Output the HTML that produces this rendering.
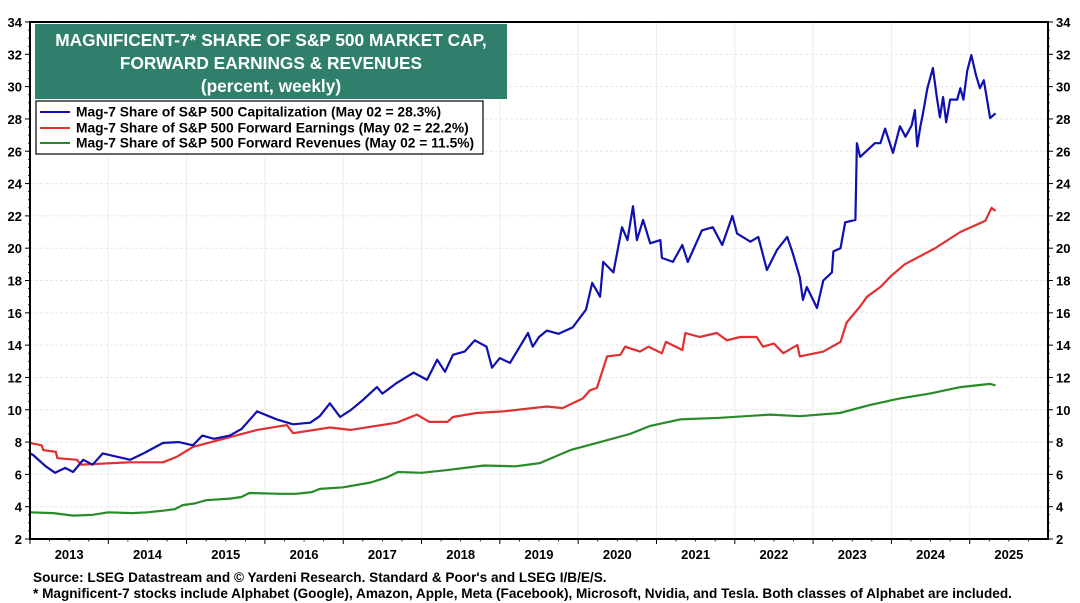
<!DOCTYPE html>
<html><head><meta charset="utf-8"><style>
body{margin:0;background:#fff;}
svg{display:block;font-family:"Liberation Sans",Arial,sans-serif;}
</style></head><body>
<svg id="chart" width="1080" height="603" viewBox="0 0 1080 603" xmlns="http://www.w3.org/2000/svg">
<rect width="1080" height="603" fill="#fff"/>
<g id="grid"></g>
<g id="axes"></g>
<g id="series"></g>
<rect x="30" y="22" width="1018" height="517" fill="none" stroke="#000" stroke-width="2"/>
<g>
<rect x="35" y="24" width="472" height="75" fill="#2f7f6c"/>
<text x="271" y="46" text-anchor="middle" fill="#fff" font-size="17.3" font-weight="bold">MAGNIFICENT-7* SHARE OF S&amp;P 500 MARKET CAP,</text>
<text x="271" y="69" text-anchor="middle" fill="#fff" font-size="17.3" font-weight="bold">FORWARD EARNINGS &amp; REVENUES</text>
<text x="271" y="92" text-anchor="middle" fill="#fff" font-size="17.3" font-weight="bold">(percent, weekly)</text>
</g>
<g>
<rect x="36" y="101" width="447" height="53" fill="#fff" stroke="#000" stroke-width="1.2"/>
<g><line x1="40" y1="112" x2="70" y2="112" stroke="#1010b0" stroke-width="2"/><text x="76" y="116.5" font-size="13.8" font-weight="bold">Mag-7 Share of S&amp;P 500 Capitalization (May 02 = 28.3%)</text></g>
<g><line x1="40" y1="128" x2="70" y2="128" stroke="#e03030" stroke-width="2"/><text x="76" y="132.5" font-size="13.8" font-weight="bold">Mag-7 Share of S&amp;P 500 Forward Earnings (May 02 = 22.2%)</text></g>
<g><line x1="40" y1="143" x2="70" y2="143" stroke="#2a8a2a" stroke-width="2"/><text x="76" y="147.5" font-size="13.8" font-weight="bold">Mag-7 Share of S&amp;P 500 Forward Revenues (May 02 = 11.5%)</text></g>
</g>
<text x="33" y="582" font-size="13.6" font-weight="bold">Source: LSEG Datastream and © Yardeni Research. Standard &amp; Poor's and LSEG I/B/E/S.</text>
<text x="33" y="598" font-size="13.6" font-weight="bold">* Magnificent-7 stocks include Alphabet (Google), Amazon, Apple, Meta (Facebook), Microsoft, Nvidia, and Tesla. Both classes of Alphabet are included.</text>
</svg>
<script>
const yTicks=[2,4,6,8,10,12,14,16,18,20,22,24,26,28,30,32,34];
const years=[2013,2014,2015,2016,2017,2018,2019,2020,2021,2022,2023,2024,2025];
const capT=[2013.0,2013.04,2013.2,2013.32,2013.45,2013.55,2013.68,2013.8,2013.93,2014.1,2014.28,2014.45,2014.7,2014.9,2015.08,2015.2,2015.35,2015.55,2015.7,2015.9,2016.05,2016.15,2016.36,2016.58,2016.7,2016.83,2016.96,2017.1,2017.25,2017.43,2017.5,2017.68,2017.9,2018.07,2018.2,2018.3,2018.4,2018.55,2018.68,2018.83,2018.9,2019.0,2019.13,2019.36,2019.42,2019.5,2019.6,2019.75,2019.93,2020.1,2020.18,2020.28,2020.32,2020.45,2020.56,2020.63,2020.7,2020.75,2020.83,2020.92,2021.05,2021.07,2021.21,2021.33,2021.4,2021.58,2021.72,2021.84,2021.97,2022.03,2022.2,2022.3,2022.41,2022.54,2022.67,2022.74,2022.83,2022.87,2022.92,2023.05,2023.13,2023.24,2023.26,2023.35,2023.41,2023.54,2023.56,2023.6,2023.79,2023.86,2023.92,2024.02,2024.11,2024.18,2024.26,2024.3,2024.33,2024.37,2024.4,2024.46,2024.53,2024.58,2024.62,2024.66,2024.7,2024.75,2024.84,2024.88,2024.92,2024.97,2025.02,2025.08,2025.13,2025.18,2025.26,2025.33];
const capV=[7.3,7.2,6.5,6.1,6.4,6.15,6.9,6.6,7.3,7.1,6.9,7.3,7.95,8.0,7.8,8.4,8.2,8.4,8.8,9.9,9.6,9.4,9.1,9.2,9.6,10.4,9.55,10.0,10.6,11.4,11.0,11.65,12.3,11.85,13.1,12.35,13.4,13.6,14.3,13.9,12.6,13.2,12.9,14.75,13.9,14.5,14.9,14.7,15.1,16.2,17.85,17.0,19.15,18.5,21.3,20.5,22.6,20.5,21.75,20.3,20.5,19.4,19.15,20.2,19.15,21.1,21.3,20.2,22.0,20.9,20.4,20.7,18.65,19.9,20.7,19.7,18.2,16.8,17.6,16.3,18.0,18.5,19.8,20.0,21.6,21.75,26.5,25.65,26.5,26.5,27.4,25.9,27.55,26.9,27.6,28.55,26.3,27.55,28.25,29.9,31.15,29.35,28.1,29.35,27.8,29.2,29.2,29.9,29.2,31.0,31.95,30.7,29.9,30.4,28.05,28.35];
const earnT=[2013.0,2013.15,2013.17,2013.33,2013.35,2013.6,2013.65,2014.28,2014.7,2014.88,2015.08,2015.55,2015.9,2016.28,2016.36,2016.83,2017.09,2017.68,2017.94,2018.1,2018.33,2018.4,2018.7,2019.04,2019.6,2019.8,2020.06,2020.15,2020.24,2020.37,2020.54,2020.6,2020.79,2020.9,2021.07,2021.12,2021.33,2021.37,2021.55,2021.77,2021.9,2022.07,2022.28,2022.36,2022.5,2022.62,2022.8,2022.83,2023.13,2023.35,2023.43,2023.6,2023.69,2023.86,2024.0,2024.17,2024.56,2024.88,2025.2,2025.28,2025.33];
const earnV=[7.95,7.8,7.5,7.4,7.0,6.9,6.6,6.75,6.75,7.1,7.7,8.3,8.75,9.05,8.55,8.9,8.75,9.2,9.7,9.25,9.25,9.55,9.8,9.9,10.2,10.1,10.7,11.2,11.35,13.3,13.4,13.9,13.6,13.9,13.5,14.2,13.7,14.75,14.5,14.75,14.3,14.5,14.5,13.9,14.1,13.5,14.0,13.3,13.6,14.2,15.4,16.4,17.0,17.6,18.3,19.0,20.0,21.0,21.7,22.5,22.3];
const revT=[2013.0,2013.3,2013.55,2013.8,2014.0,2014.3,2014.5,2014.7,2014.85,2014.95,2015.1,2015.25,2015.55,2015.7,2015.8,2016.2,2016.4,2016.6,2016.7,2017.0,2017.35,2017.55,2017.7,2018.0,2018.3,2018.8,2019.2,2019.51,2019.9,2020.28,2020.66,2020.92,2021.3,2021.81,2022.45,2022.83,2023.34,2023.73,2024.11,2024.49,2024.88,2025.26,2025.33];
const revV=[3.65,3.6,3.45,3.5,3.65,3.6,3.65,3.75,3.85,4.1,4.2,4.4,4.5,4.6,4.85,4.8,4.8,4.9,5.1,5.2,5.5,5.8,6.15,6.1,6.25,6.55,6.5,6.7,7.5,8.0,8.5,9.0,9.4,9.5,9.7,9.6,9.8,10.3,10.7,11.0,11.4,11.6,11.5];

const X0=30,X1=1048,Y0=539,Y1=22,T0=2013,T1=2026,V0=2,V1=34;
const xs=t=>X0+(t-T0)/(T1-T0)*(X1-X0);
const ys=v=>Y0-(v-V0)/(V1-V0)*(Y0-Y1);
const NS='http://www.w3.org/2000/svg';
function mk(tag,attrs,parent){const e=document.createElementNS(NS,tag);for(const k in attrs)e.setAttribute(k,attrs[k]);parent.appendChild(e);return e;}
const grid=document.getElementById('grid'),axes=document.getElementById('axes'),ser=document.getElementById('series');
yTicks.forEach(v=>{
  const y=ys(v);
  if(v>V0&&v<V1){const g=mk('line',{x1:X0,x2:X1,y1:y,y2:y,stroke:'#e6e6e6','stroke-width':1,'stroke-dasharray':'3,2'},grid);
  
  }
  [['end',X0-8],['start',X1+8]].forEach(([a,x])=>{
    const t=mk('text',{x:x,y:y+5,'text-anchor':a,'font-size':13,'font-weight':'bold'},axes);t.textContent=v;
    
    
  });
  mk('line',{x1:X0-5,x2:X0,y1:y,y2:y,stroke:'#000','stroke-width':1},axes);
  mk('line',{x1:X1,x2:X1+5,y1:y,y2:y,stroke:'#000','stroke-width':1},axes);
});
for(let v=V0;v<V1;v+=0.5){const y=ys(v);mk('line',{x1:X0-2,x2:X0,y1:y,y2:y,stroke:'#000','stroke-width':0.8},axes);mk('line',{x1:X1,x2:X1+2,y1:y,y2:y,stroke:'#000','stroke-width':0.8},axes);}
years.forEach(yr=>{
  const x=xs(yr);
  if(yr>T0){const g=mk('line',{x1:x,x2:x,y1:Y1,y2:Y0,stroke:'#ececec','stroke-width':1},grid);
  
  }
  mk('line',{x1:x,x2:x,y1:Y0,y2:Y0+5,stroke:'#000','stroke-width':1},axes);
  for(let q=1;q<4;q++){const xq=xs(yr+q/4);mk('line',{x1:xq,x2:xq,y1:Y0,y2:Y0+2.5,stroke:'#000','stroke-width':0.8},axes);}
  const t=mk('text',{x:xs(yr+0.5),y:559,'text-anchor':'middle','font-size':13,'font-weight':'bold'},axes);t.textContent=yr;
  
  
});
function line(T,V,color,name){
  const d=T.map((t,i)=>(i?'L':'M')+xs(t).toFixed(1)+','+ys(V[i]).toFixed(1)).join('');
  const p=mk('path',{d:d,fill:'none',stroke:color,'stroke-width':2.2,'stroke-linejoin':'round'},ser);
  
  
}
line(revT,revV,'#2a8a2a','revenues-line');
line(earnT,earnV,'#e03030','earnings-line');
line(capT,capV,'#1010b0','capitalization-line');
</script>
</body></html>
